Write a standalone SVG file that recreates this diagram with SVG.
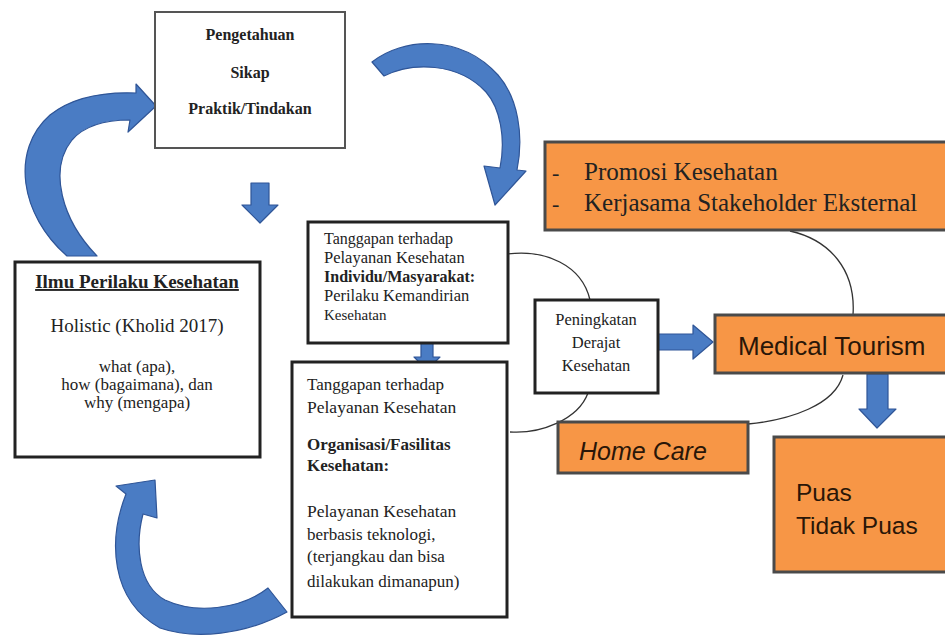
<svg xmlns="http://www.w3.org/2000/svg" width="945" height="639" viewBox="0 0 945 639">
<style>
.bx{fill:#fff;stroke:#222;stroke-width:3}
.bx2{fill:#fff;stroke:#555;stroke-width:2}
.or{fill:#F79646;stroke:#4a4a4a;stroke-width:3}
.sr{font-family:"Liberation Serif","Times New Roman",serif;fill:#222}
.ss{font-family:"Liberation Sans",Arial,sans-serif;fill:#2a1608}
.ba{fill:#4a7cc4;stroke:#2f5597;stroke-width:1.2;stroke-linejoin:round}
.ln{fill:none;stroke:#333;stroke-width:1.3}
</style>
<rect width="945" height="639" fill="#fff"/>
<g id="connectors">
<path class="ln" d="M507,254 C545,249 582,265 590,300"/>
<path class="ln" d="M588,393 C578,420 540,434 510,432"/>
<path class="ln" d="M790,231 C830,240 856,270 853,315"/>
<path class="ln" d="M843,375 C835,405 790,420 748,424"/>
<path class="ba" d="M67,256 C20,215 10,150 50,115 C75,95 110,92 136,93 L136,84 L156,106 L128,132 L130,120 C105,120 85,125 72,140 C48,170 62,220 97,256 Z"/>
<path class="ba" d="M372,62 C402,38 460,33 498,75 C518,98 524,135 517,170 L526,171 L495,205 L484,166 L500,168 C506,138 500,108 486,92 C458,62 412,62 384,76 Z"/>
<path class="ba" d="M126,494 C108,540 110,600 160,628 C195,640 245,635 287,612 L268,588 C240,610 195,614 165,600 C138,585 135,545 143,514 L157,518 L155,480 L116,486 Z"/>
<path class="ba" d="M251,183 L269,183 L269,205 L278,205 L260,223 L242,205 L251,205 Z"/>
<path class="ba" d="M658,334 L693,334 L693,325 L713,342 L693,359 L693,350 L658,350 Z"/>
<path class="ba" d="M867,374 L888,374 L888,409 L896,409 L877,428 L859,409 L867,409 Z"/>
<path class="ba" d="M427,321 L440,334 L433,334 L433,357 L440,357 L427,370 L414,357 L421,357 L421,334 L414,334 Z"/>
</g>
<g id="node-pengetahuan">
<rect class="bx2" x="155" y="12" width="190" height="136"/>
<text class="sr" x="250" y="40" font-size="16" font-weight="bold" text-anchor="middle">Pengetahuan</text>
<text class="sr" x="250" y="78" font-size="16" font-weight="bold" text-anchor="middle">Sikap</text>
<text class="sr" x="250" y="114" font-size="16" font-weight="bold" text-anchor="middle">Praktik/Tindakan</text>
</g>
<g id="node-ilmu">
<rect class="bx" x="15" y="262" width="245" height="195"/>
<text class="sr" x="137" y="288" font-size="19" font-weight="bold" text-anchor="middle" text-decoration="underline">Ilmu Perilaku Kesehatan</text>
<text class="sr" x="137" y="332" font-size="19" text-anchor="middle">Holistic (Kholid 2017)</text>
<text class="sr" x="137" y="372" font-size="17" text-anchor="middle">what (apa),</text>
<text class="sr" x="137" y="390" font-size="17" text-anchor="middle">how (bagaimana), dan</text>
<text class="sr" x="137" y="408" font-size="17" text-anchor="middle">why (mengapa)</text>
</g>
<g id="node-individu">
<rect class="bx" x="308" y="222" width="200" height="121"/>
<text class="sr" x="324" y="244" font-size="16">Tanggapan terhadap</text>
<text class="sr" x="324" y="263" font-size="16.5">Pelayanan Kesehatan</text>
<text class="sr" x="324" y="282" font-size="16" font-weight="bold">Individu/Masyarakat:</text>
<text class="sr" x="324" y="301" font-size="16.5">Perilaku Kemandirian</text>
<text class="sr" x="324" y="320" font-size="15">Kesehatan</text>
</g>
<g id="node-organisasi">
<rect class="bx" x="292" y="362" width="215" height="255"/>
<text class="sr" x="307" y="390" font-size="17">Tanggapan terhadap</text>
<text class="sr" x="307" y="413" font-size="17.5">Pelayanan Kesehatan</text>
<text class="sr" x="307" y="450" font-size="17" font-weight="bold">Organisasi/Fasilitas</text>
<text class="sr" x="307" y="471" font-size="17" font-weight="bold">Kesehatan:</text>
<text class="sr" x="307" y="517" font-size="17.5">Pelayanan Kesehatan</text>
<text class="sr" x="307" y="540" font-size="17">berbasis teknologi,</text>
<text class="sr" x="307" y="562" font-size="17">(terjangkau dan bisa</text>
<text class="sr" x="307" y="587" font-size="17">dilakukan dimanapun)</text>
</g>
<g id="node-peningkatan">
<rect class="bx" x="535" y="300" width="123" height="93"/>
<text class="sr" x="596" y="325" font-size="16.5" text-anchor="middle">Peningkatan</text>
<text class="sr" x="596" y="348" font-size="16.5" text-anchor="middle">Derajat</text>
<text class="sr" x="596" y="371" font-size="16.5" text-anchor="middle">Kesehatan</text>
</g>
<g id="node-promosi">
<rect class="or" x="545" y="142" width="402" height="88"/>
<text class="sr" x="552" y="180" font-size="22" fill="#2a1608">-</text>
<text class="sr" x="584" y="180" font-size="25" fill="#2a1608">Promosi Kesehatan</text>
<text class="sr" x="552" y="211" font-size="22" fill="#2a1608">-</text>
<text class="sr" x="584" y="211" font-size="25" fill="#2a1608">Kerjasama Stakeholder Eksternal</text>
</g>
<g id="node-medical">
<rect class="or" x="715" y="315" width="232" height="58"/>
<text class="ss" x="738" y="355" font-size="26">Medical Tourism</text>
</g>
<g id="node-homecare">
<rect class="or" x="558" y="422" width="190" height="51"/>
<text class="ss" x="579" y="460" font-size="25" font-style="italic">Home Care</text>
</g>
<g id="node-puas">
<rect class="or" x="774" y="437" width="173" height="135"/>
<text class="ss" x="796" y="501" font-size="24.5">Puas</text>
<text class="ss" x="796" y="534" font-size="24.5">Tidak Puas</text>
</g>
</svg>
